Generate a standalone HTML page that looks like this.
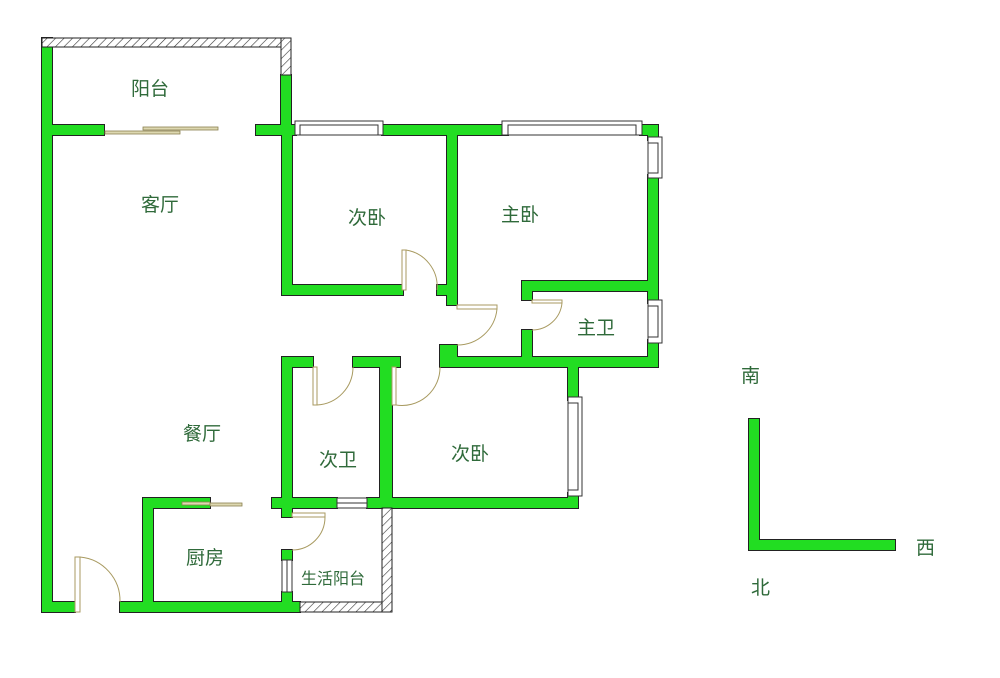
<!DOCTYPE html>
<html><head><meta charset="utf-8"><style>
html,body{margin:0;padding:0;background:#fff;}
svg{display:block;}
text{font-family:"Liberation Sans","Noto Sans CJK SC",sans-serif;font-size:19px;fill:#2f6a3a;}
</style></head><body>
<svg width="1000" height="678" viewBox="0 0 1000 678" xmlns="http://www.w3.org/2000/svg">
<defs>
<pattern id="h" width="6" height="6" patternUnits="userSpaceOnUse" patternTransform="rotate(45)">
<rect width="6" height="6" fill="#fff"/><line x1="0" y1="0" x2="0" y2="6" stroke="#333" stroke-width="1.2"/>
</pattern>
<g id="w">
<rect x="42" y="38" width="10" height="574"/>
<rect x="281" y="75" width="10" height="60"/>
<rect x="42" y="125" width="62" height="10"/>
<rect x="256" y="125" width="40" height="10"/>
<rect x="382" y="125" width="126" height="10"/>
<rect x="640" y="125" width="18" height="10"/>
<rect x="282" y="125" width="10" height="170"/>
<rect x="282" y="285" width="121" height="10"/>
<rect x="447" y="125" width="10" height="180"/>
<rect x="437" y="285" width="20" height="10"/>
<rect x="648" y="125" width="10" height="15"/>
<rect x="648" y="175" width="10" height="128"/>
<rect x="648" y="340" width="10" height="27"/>
<rect x="522" y="281" width="136" height="10"/>
<rect x="522" y="281" width="10" height="19"/>
<rect x="522" y="330" width="10" height="37"/>
<rect x="440" y="345" width="17" height="22"/>
<rect x="440" y="357" width="218" height="10"/>
<rect x="282" y="357" width="31" height="10"/>
<rect x="353" y="357" width="47" height="10"/>
<rect x="282" y="357" width="10" height="151"/>
<rect x="380" y="357" width="12" height="151"/>
<rect x="568" y="357" width="10" height="43"/>
<rect x="568" y="493" width="10" height="15"/>
<rect x="282" y="498" width="55" height="10"/>
<rect x="367" y="498" width="211" height="10"/>
<rect x="272" y="498" width="20" height="10"/>
<rect x="143" y="498" width="67" height="10"/>
<rect x="143" y="498" width="10" height="114"/>
<rect x="282" y="508" width="10" height="9"/>
<rect x="282" y="550" width="10" height="10"/>
<rect x="282" y="592" width="10" height="20"/>
<rect x="42" y="602" width="33" height="10"/>
<rect x="120" y="602" width="180" height="10"/>
<rect x="749" y="419" width="10" height="131"/>
<rect x="749" y="540" width="146" height="10"/>
</g>
</defs>
<rect width="1000" height="678" fill="#fff"/>
<use href="#w" fill="#222" stroke="#222" stroke-width="2"/>
<use href="#w" fill="#22dd22"/>
<!-- hatched -->
<rect x="42" y="38" width="249" height="9" fill="url(#h)" stroke="#222" stroke-width="1"/>
<rect x="281" y="38" width="10" height="37" fill="url(#h)" stroke="#222" stroke-width="1"/>
<rect x="300" y="602" width="92" height="10" fill="url(#h)" stroke="#222" stroke-width="1"/>
<rect x="382" y="508" width="10" height="104" fill="url(#h)" stroke="#222" stroke-width="1"/>
<!-- windows -->
<g fill="#fff" stroke="#333" stroke-width="1">
<rect x="295" y="121" width="88" height="14"/><rect x="300" y="125" width="78" height="10"/>
<rect x="502" y="121" width="140" height="14"/><rect x="508" y="125" width="128" height="10"/>
<rect x="648" y="137" width="14" height="41"/><rect x="648" y="143" width="10" height="30"/>
<rect x="648" y="300" width="14" height="43"/><rect x="648" y="306" width="10" height="31"/>
<rect x="568" y="397" width="14" height="99"/><rect x="568" y="403" width="10" height="87"/>
<rect x="337" y="498" width="30" height="10"/><line x1="337" y1="503" x2="367" y2="503"/>
<rect x="282" y="560" width="10" height="32"/><line x1="287" y1="560" x2="287" y2="592"/>
</g>
<!-- sliding doors -->
<g fill="#ddd8b0" stroke="#8a8050" stroke-width="0.8">
<rect x="105" y="131" width="75" height="3"/><rect x="143" y="127" width="75" height="3"/>
<rect x="182" y="502" width="28" height="3"/><rect x="210" y="503" width="32" height="3"/>
</g>
<!-- doors -->
<g fill="none" stroke="#a89a60" stroke-width="1">
<rect x="402" y="250" width="4" height="40" fill="#fff"/><path d="M406 250 A37 37 0 0 1 437 290"/>
<rect x="457" y="305" width="40" height="4" fill="#fff"/><path d="M497 309 A40 40 0 0 1 457 345"/>
<rect x="532" y="300" width="30" height="3" fill="#fff"/><path d="M562 303 A30 30 0 0 1 532 330"/>
<rect x="313" y="367" width="4" height="38" fill="#fff"/><path d="M317 405 A38 38 0 0 0 353 367"/>
<rect x="392" y="367" width="4" height="38" fill="#fff"/><path d="M396 405 A38 38 0 0 0 440 367"/>
<rect x="292" y="513" width="33" height="4" fill="#fff"/><path d="M325 517 A33 33 0 0 1 292 550"/>
<rect x="75" y="557" width="5" height="55" fill="#fff"/><path d="M80 557 A44 44 0 0 1 120 602"/>
</g>
<!-- labels -->
<text x="131" y="95">阳台</text>
<text x="141" y="211">客厅</text>
<text x="348" y="224">次卧</text>
<text x="501" y="221">主卧</text>
<text x="577" y="334">主卫</text>
<text x="319" y="466">次卫</text>
<text x="451" y="460">次卧</text>
<text x="183" y="440">餐厅</text>
<text x="186" y="564">厨房</text>
<text x="301" y="584" style="font-size:16px">生活阳台</text>
<text x="741" y="382">南</text>
<text x="916" y="554">西</text>
<text x="751" y="594">北</text>
</svg>
</body></html>
